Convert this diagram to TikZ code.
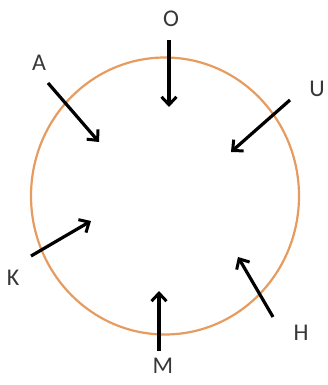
\documentclass[tikz,border=0pt]{standalone}
\usepackage{fontspec}
\setmainfont{Carlito}
\usetikzlibrary{arrows.meta,shapes.geometric}
\definecolor{ringc}{RGB}{230,155,95}
\definecolor{labc}{RGB}{55,55,55}
\tikzset{
  lab/.style={text=labc,font=\fontsize{24}{24}\selectfont,inner sep=0pt},
  arr/.style={line width=3.2pt,-{Straight Barb[length=8pt,width=15pt,line width=3pt]}},
}
\begin{document}
\begin{tikzpicture}[x=1pt,y=-1pt]
\useasboundingbox (0,0) rectangle (327,385);
\node[draw=ringc,line width=2.2pt,ellipse,minimum width=268pt,minimum height=277pt,inner sep=0pt] (ring) at (165,196) {};
\node[lab] (O) at (171,19) {O};
\node[lab] (A) at (39,63) {A};
\node[lab] (U) at (317,89) {U};
\node[lab] (K) at (13,278) {K};
\node[lab] (H) at (301,333) {H};
\node[lab] (M) at (163,366) {M};
\coordinate (o1) at (169,40); \coordinate (o2) at (169,107);
\coordinate (a1) at (48,83); \coordinate (a2) at (99,142);
\coordinate (u1) at (290,100); \coordinate (u2) at (231,152);
\coordinate (k1) at (31,256); \coordinate (k2) at (91,221);
\coordinate (h1) at (273,317); \coordinate (h2) at (238,257);
\coordinate (m1) at (159,351); \coordinate (m2) at (159,291);
\draw[arr] (o1) -- (o2);
\draw[arr] (a1) -- (a2);
\draw[arr] (u1) -- (u2);
\draw[arr] (k1) -- (k2);
\draw[arr] (h1) -- (h2);
\draw[arr] (m1) -- (m2);
\end{tikzpicture}
\end{document}
